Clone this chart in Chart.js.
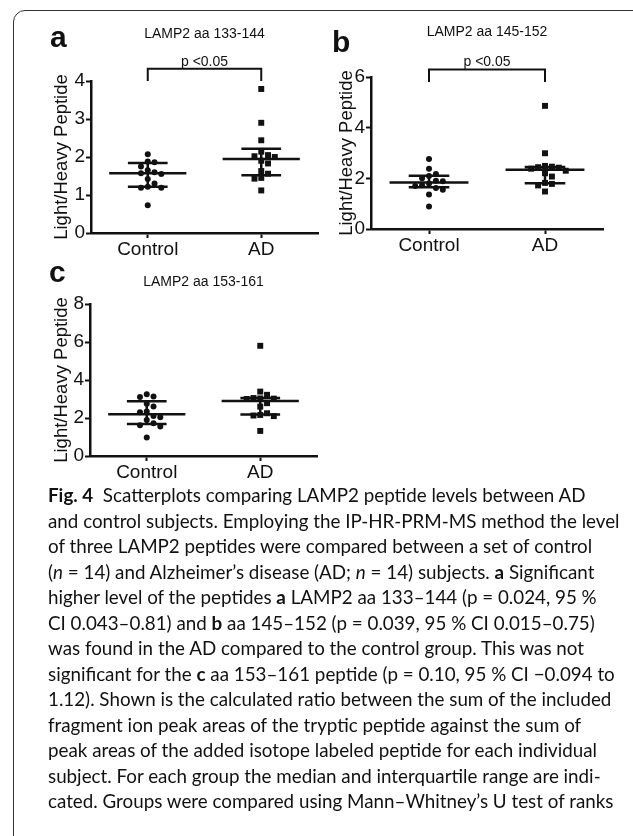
<!DOCTYPE html>
<html>
<head>
<meta charset="utf-8">
<script src="https://cdn.jsdelivr.net/npm/chart.js@4/dist/chart.umd.min.js"></script>
<style>
  html, body { margin: 0; padding: 0; background: #fff; }
  body { width: 633px; height: 836px; position: relative; overflow: hidden; }
  #frame { position: absolute; left: 13px; top: 10px; width: 660px; height: 860px;
           border: 1.5px solid #333; border-radius: 12px; }
  canvas { position: absolute; }
  #cap { position: absolute; left: 48px; top: 482px; color: #111; white-space: nowrap;
         font-family: Lato, "Open Sans", sans-serif; font-size: 18.8px; line-height: 25.5px; }
  #cap b { font-weight: 700; }
</style>
</head>
<body>
<div id="frame"></div>
<canvas id="ca" width="305" height="255" style="left:20px;top:10px"></canvas>
<canvas id="cb" width="300" height="255" style="left:325px;top:10px"></canvas>
<canvas id="cc" width="305" height="225" style="left:20px;top:265px"></canvas>
<div id="cap">
<b>Fig.&nbsp;4</b>&nbsp;&nbsp;Scatterplots comparing LAMP2 peptide levels between AD<br>
and control subjects. Employing the IP-HR-PRM-MS method the level<br>
of three LAMP2 peptides were compared between a set of control<br>
(<i>n</i> = 14) and Alzheimer’s disease (AD; <i>n</i> = 14) subjects. <b>a</b> Significant<br>
higher level of the peptides <b>a</b> LAMP2 aa 133–144 (p = 0.024, 95 %<br>
CI 0.043–0.81) and <b>b</b> aa 145–152 (p = 0.039, 95 % CI 0.015–0.75)<br>
was found in the AD compared to the control group. This was not<br>
significant for the <b>c</b> aa 153–161 peptide (p = 0.10, 95 % CI −0.094 to<br>
1.12). Shown is the calculated ratio between the sum of the included<br>
fragment ion peak areas of the tryptic peptide against the sum of<br>
peak areas of the added isotope labeled peptide for each individual<br>
subject. For each group the median and interquartile range are indi-<br>
cated. Groups were compared using Mann–Whitney’s U test of ranks
</div>
<script>
// groups on the x axis
const groups = ['Control', 'AD'];

// panel a: LAMP2 aa 133-144
const ctrlA = [2.07, 1.88, 1.86, 1.75, 1.65, 1.6, 1.57, 1.55, 1.42, 1.3, 1.22, 1.19, 1.19, 0.73];
const adA   = [3.79, 2.9, 2.44, 2.14, 2.05, 2.02, 2.0, 1.9, 1.83, 1.63, 1.56, 1.45, 1.43, 1.12];
const medA = [1.57, 1.95], q1A = [1.22, 1.52], q3A = [1.84, 2.22];

// panel b: LAMP2 aa 145-152
const ctrlB = [2.76, 2.38, 2.17, 2.09, 2.0, 1.9, 1.88, 1.8, 1.73, 1.7, 1.62, 1.55, 1.36, 0.89];
const adB   = [4.86, 2.99, 2.49, 2.46, 2.44, 2.42, 2.38, 2.3, 2.2, 2.07, 1.82, 1.78, 1.72, 1.48];
const medB = [1.84, 2.34], q1B = [1.65, 1.81], q3B = [2.1, 2.45];

// panel c: LAMP2 aa 153-161
const ctrlC = [3.25, 3.13, 3.11, 2.75, 2.6, 2.34, 2.3, 2.1, 2.04, 1.9, 1.72, 1.62, 1.55, 0.97];
const adC   = [5.8, 3.39, 3.22, 3.05, 3.03, 3.02, 3.0, 2.78, 2.6, 2.25, 2.16, 2.13, 2.1, 1.32];
const medC = [2.2, 2.89], q1C = [1.69, 2.18], q3C = [2.88, 3.05];

// y axis ranges
const yMax  = [4, 6, 8];
const yStep = [1, 2, 2];

const FONT = '"Liberation Sans", Arial, sans-serif';

// simple deterministic beeswarm so overlapping points sit side by side
function swarm(values, center, max) {
  const pyu = 152 / max, pxu = 114, d = 6.8;
  const placed = [];
  return values.map(v => {
    let off = 0;
    for (let k = 0; k < 20; k++) {
      const cand = (k % 2 ? 1 : -1) * Math.ceil(k / 2) * d;
      const ok = placed.every(p => Math.hypot(p.o - cand, (p.v - v) * pyu) >= d);
      if (ok) { off = cand; break; }
    }
    placed.push({ o: off, v: v });
    return { x: center + off / pxu, y: v };
  });
}

function summary(med, q1, q3) {
  const pts = [];
  [0, 1].forEach(g => {
    pts.push({ x: g - 0.34, y: med[g] }, { x: g + 0.34, y: med[g] }, { x: g, y: null });
    pts.push({ x: g - 0.175, y: q1[g] }, { x: g + 0.175, y: q1[g] }, { x: g, y: null });
    pts.push({ x: g - 0.175, y: q3[g] }, { x: g + 0.175, y: q3[g] }, { x: g, y: null });
    pts.push({ x: g, y: q1[g] }, { x: g, y: q3[g] }, { x: g, y: null });
  });
  return pts;
}

const decor = {
  id: 'decor',
  afterDraw(chart, args, o) {
    const { ctx, chartArea: a, scales } = chart;
    ctx.save();
    ctx.fillStyle = '#111';
    ctx.textAlign = 'left';
    ctx.textBaseline = 'alphabetic';
    ctx.font = 'bold 30px ' + FONT;
    ctx.fillText(o.letter, o.letterX, o.letterY);

    ctx.textAlign = 'center';
    ctx.textBaseline = 'middle';
    ctx.font = '14px ' + FONT;
    ctx.fillText(o.title, (a.left + a.right) / 2, o.titleY);

    if (o.sig) {
      ctx.textBaseline = 'alphabetic';
      ctx.fillText(o.sig, scales.x.getPixelForValue(0.5), scales.y.getPixelForValue(o.bracket[1]) - 3);
    }

    ctx.translate(a.left + o.labelDx, (a.top + a.bottom) / 2);
    ctx.rotate(-Math.PI / 2);
    ctx.textBaseline = 'middle';
    ctx.font = '18.5px ' + FONT;
    ctx.fillText('Light/Heavy Peptide', 0, 0);
    ctx.restore();
  }
};

function makeChart(id, i, ctrl, ad, med, q1, q3, cfg) {
  const datasets = [
    { data: swarm(ctrl, 0, yMax[i]), pointStyle: 'circle', pointRadius: 3,
      backgroundColor: '#111', borderWidth: 0, showLine: false },
    { data: swarm(ad, 1, yMax[i]), pointStyle: 'rect', pointRadius: 4.2,
      backgroundColor: '#111', borderWidth: 0, showLine: false },
    { data: summary(med, q1, q3), showLine: true, spanGaps: false, pointRadius: 0,
      borderColor: '#111', borderWidth: 2.5 }
  ];
  if (cfg.bracket) {
    const [lo, hi] = cfg.bracket;
    datasets.push({ data: [{ x: 0, y: lo }, { x: 0, y: hi }, { x: 1, y: hi }, { x: 1, y: lo }],
      showLine: true, pointRadius: 0, borderColor: '#111', borderWidth: 2, clip: false });
  }
  return new Chart(document.getElementById(id), {
    type: 'scatter',
    data: { datasets },
    plugins: [decor],
    options: {
      responsive: false,
      animation: false,
      events: [],
      layout: { padding: { left: 0, top: cfg.padTop, right: cfg.padRight, bottom: 0 } },
      plugins: { legend: { display: false }, tooltip: { enabled: false }, decor: cfg },
      scales: {
        x: {
          type: 'linear', min: -0.5, max: 1.5,
          afterBuildTicks: s => { s.ticks = [{ value: 0 }, { value: 1 }]; },
          afterFit: s => { s.height = cfg.xH; },
          ticks: { callback: v => groups[v], color: '#111', padding: 0,
                   font: { family: FONT, size: 19 } },
          grid: { drawOnChartArea: false, tickLength: 5, tickColor: '#111', tickWidth: 2 },
          border: { color: '#111', width: 2.5 }
        },
        y: {
          min: 0, max: yMax[i],
          afterFit: s => { s.width = cfg.yW; },
          ticks: { stepSize: yStep[i], color: '#111', padding: 1,
                   font: { family: FONT, size: 19 } },
          grid: { drawOnChartArea: false, tickLength: 5, tickColor: '#111', tickWidth: 2 },
          border: { color: '#111', width: 2.5 }
        }
      }
    }
  });
}

makeChart('ca', 0, ctrlA, adA, medA, q1A, q3A, {
  letter: 'a', letterX: 30, letterY: 37, title: 'LAMP2 aa 133-144', titleY: 24,
  sig: 'p <0.05', bracket: [4.0, 4.32], labelDx: -29,
  padTop: 71, padRight: 7, xH: 32, yW: 71
});
makeChart('cb', 1, ctrlB, adB, medB, q1B, q3B, {
  letter: 'b', letterX: 7, letterY: 42, title: 'LAMP2 aa 145-152', titleY: 22.5,
  sig: 'p <0.05', bracket: [5.8, 6.3], labelDx: -24,
  padTop: 67, padRight: 22, xH: 36, yW: 46
});
makeChart('cc', 2, ctrlC, adC, medC, q1C, q3C, {
  letter: 'c', letterX: 29, letterY: 17, title: 'LAMP2 aa 153-161', titleY: 17,
  sig: null, bracket: null, labelDx: -28,
  padTop: 39, padRight: 8, xH: 34, yW: 70
});
</script>
</body>
</html>
